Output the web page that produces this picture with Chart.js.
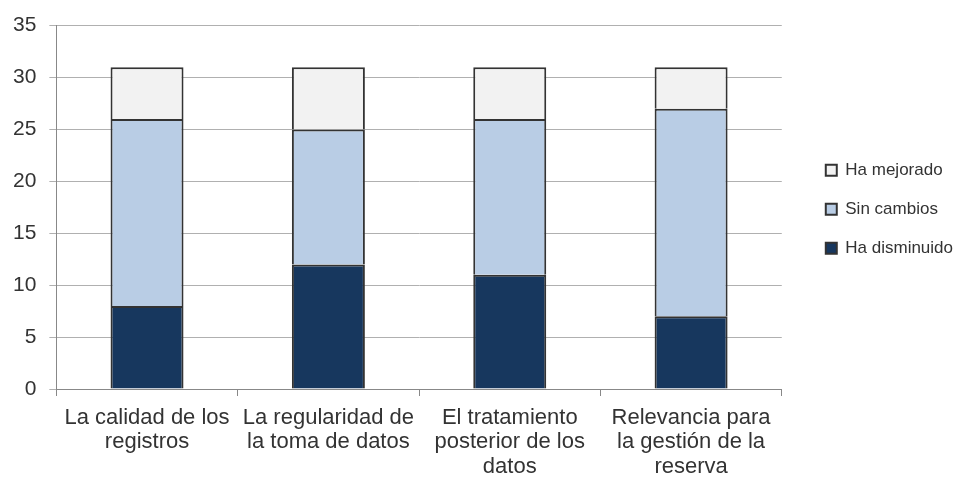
<!DOCTYPE html>
<html><head><meta charset="utf-8">
<script src="https://cdn.jsdelivr.net/npm/chart.js@4"></script>
<style>html,body{margin:0;padding:0;background:#fff}#w{width:963px;height:477px}</style>
</head><body><div id="w"><canvas id="c"></canvas></div>
<script>
const categories = [
  ["La calidad de los", "registros"],
  ["La regularidad de", "la toma de datos"],
  ["El tratamiento", "posterior de los", "datos"],
  ["Relevancia para", "la gestión de la", "reserva"]
];
const haDisminuido = [8, 12, 11, 7];
const sinCambios = [18, 13, 15, 20];
const haMejorado = [5, 6, 5, 4];
const yTicks = [0, 5, 10, 15, 20, 25, 30, 35];

Chart.defaults.font.family = "'Liberation Sans', Arial, sans-serif";
Chart.defaults.color = '#333';

const legendShift = {
  id: 'legendShift',
  afterLayout(chart) {
    const lg = chart.legend;
    if (!lg) return;
    const ca = chart.chartArea;
    const mid = (ca.top + ca.bottom) / 2;
    const cur = (lg.top + lg.bottom) / 2;
    const d = mid - cur + 2;
    lg.top += d; lg.bottom += d;
    const dx = chart.chartArea.right + 44 - (lg.left + 22);
    lg.left += dx; lg.right += dx;
  }
};

const common = {borderColor: '#333', borderWidth: 2, barPercentage: 0.805, categoryPercentage: 0.5};
new Chart(document.getElementById('c'), {
  type: 'bar',
  data: {
    labels: categories,
    datasets: [
      Object.assign({label: 'Ha disminuido', data: haDisminuido, backgroundColor: '#17375E'}, common),
      Object.assign({label: 'Sin cambios', data: sinCambios, backgroundColor: '#B9CDE5'}, common),
      Object.assign({label: 'Ha mejorado', data: haMejorado, backgroundColor: '#F2F2F2'}, common)
    ]
  },
  options: {
    responsive: true, maintainAspectRatio: false, animation: false,
    layout: {padding: {left: 0, right: 22, top: 14, bottom: 0}},
    plugins: {
      tooltip: {enabled: false},
      legend: {
        position: 'right', reverse: true,
        labels: {boxWidth: 11, boxHeight: 11, font: {size: 17}, color: '#333', padding: 22,
          generateLabels(chart) {
            const items = Chart.defaults.plugins.legend.labels.generateLabels(chart);
            items.forEach(i => { i.lineWidth = 2; i.strokeStyle = '#333'; });
            return items;
          }
        }
      }
    },
    scales: {
      x: {
        stacked: true,
        afterFit(axis) { axis.height = 88; },
        grid: {drawOnChartArea: false, drawTicks: true, tickLength: 7, color: '#888', offset: true},
        border: {color: '#888', width: 1},
        ticks: {font: {size: 22, lineHeight: 1.1}, color: '#333', maxRotation: 0, autoSkip: false, padding: 10}
      },
      y: {
        stacked: true, min: 0, max: 35,
        afterBuildTicks(axis) { axis.ticks = yTicks.map(v => ({value: v})); },
        grid: {color: '#b0b0b0', tickLength: 7, drawTicks: true},
        border: {color: '#888', width: 1},
        ticks: {font: {size: 21}, color: '#333', padding: 13}
      }
    }
  },
  plugins: [legendShift]
});
</script></body></html>
